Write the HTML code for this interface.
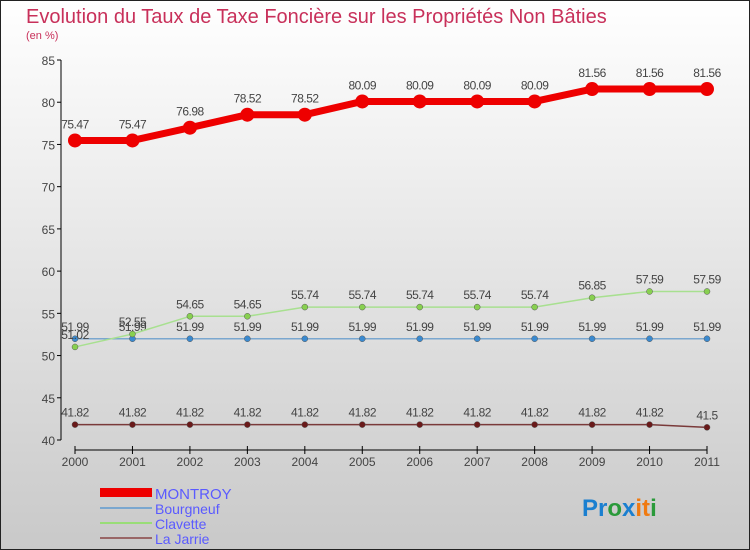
<!DOCTYPE html>
<html><head><meta charset="utf-8"><style>
body{margin:0}
#wrap{width:750px;height:550px;position:relative;overflow:hidden;font-family:"Liberation Sans",sans-serif}
svg text{font-family:"Liberation Sans",sans-serif}
</style></head><body>
<div id="wrap">
<svg id="svg" width="750" height="550" xmlns="http://www.w3.org/2000/svg">
<defs><linearGradient id="bg" x1="0" y1="0" x2="0" y2="1"><stop offset="0" stop-color="#ffffff"/><stop offset="1" stop-color="#c9c9c9"/></linearGradient></defs>
<rect x="0.5" y="0.5" width="749" height="549" fill="url(#bg)" stroke="#222"/>
<text x="26" y="23" font-size="20" fill="#c8305a">Evolution du Taux de Taxe Foncière sur les Propriétés Non Bâties</text>
<text x="26" y="39" font-size="11" fill="#c8305a">(en %)</text>
<g id="axes"></g><g id="series"></g>
<g>
<rect x="100" y="488" width="52" height="9" fill="#e00"/>
<text x="155" y="499" font-size="15" fill="#5a5aff">MONTROY</text>
<line x1="100" y1="508" x2="152" y2="508" stroke="#7aa7cf" stroke-width="2"/>
<text x="155" y="514" font-size="14" fill="#5a5aff">Bourgneuf</text>
<line x1="100" y1="523" x2="152" y2="523" stroke="#99dd77" stroke-width="2"/>
<text x="155" y="529" font-size="14" fill="#5a5aff">Clavette</text>
<line x1="100" y1="538" x2="152" y2="538" stroke="#996666" stroke-width="2"/>
<text x="155" y="544" font-size="14" fill="#5a5aff">La Jarrie</text>
</g>
<text x="582" y="516" font-size="24" font-weight="bold"><tspan fill="#1a7fd0">Pr</tspan><tspan fill="#2a9a3a">o</tspan><tspan fill="#1a7fd0">x</tspan><tspan fill="#f07a10">it</tspan><tspan fill="#2a9a3a">i</tspan></text>
</svg>
</div>
<script>
const years=["2000","2001","2002","2003","2004","2005","2006","2007","2008","2009","2010","2011"];
const yTicks=[40,45,50,55,60,65,70,75,80,85];
const montroy=[75.47,75.47,76.98,78.52,78.52,80.09,80.09,80.09,80.09,81.56,81.56,81.56];
const bourgneuf=[51.99,51.99,51.99,51.99,51.99,51.99,51.99,51.99,51.99,51.99,51.99,51.99];
const clavette=[51.02,52.55,54.65,54.65,55.74,55.74,55.74,55.74,55.74,56.85,57.59,57.59];
const laJarrie=[41.82,41.82,41.82,41.82,41.82,41.82,41.82,41.82,41.82,41.82,41.82,41.5];
const NS="http://www.w3.org/2000/svg";
function X(i){return 75+i*(707-75)/(years.length-1);}
function Y(v){return 440-(v-40)*(380/45);}
function mk(tag,attrs,parent){const e=document.createElementNS(NS,tag);for(const k in attrs)e.setAttribute(k,attrs[k]);parent.appendChild(e);return e;}
const ax=document.getElementById('axes');
let yl=mk('line',{x1:61,y1:60,x2:61,y2:440,stroke:'#000'},ax);


yTicks.forEach(t=>{
 mk('line',{x1:57,y1:Y(t),x2:61,y2:Y(t),stroke:'#000'},ax);
 const tx=mk('text',{x:55,y:Y(t)+5,'font-size':12,fill:'#444','text-anchor':'end'},ax);
 tx.textContent=t;
 
 
});
let xl=mk('line',{x1:75,y1:450,x2:707,y2:450,stroke:'#000'},ax);


years.forEach((y,i)=>{
 mk('line',{x1:X(i),y1:446,x2:X(i),y2:454,stroke:'#000'},ax);
 const tx=mk('text',{x:X(i),y:466,'font-size':12,fill:'#444','text-anchor':'middle'},ax);
 tx.textContent=y;
 
 
});
const sg=document.getElementById('series');
function draw(name,data,color,w,r,dotFill){
 const g=mk('g',{},sg);
 
 
 const pl=mk('polyline',{points:data.map((v,i)=>X(i)+','+Y(v)).join(' '),fill:'none',stroke:color,'stroke-width':w,'stroke-linejoin':'round'},g);
 
 
 data.forEach((v,i)=>{
  const c=mk('circle',{cx:X(i),cy:Y(v),r:r,fill:dotFill,stroke:r>4?'none':'#555','stroke-width':0.5},g);
  
  
  const t=mk('text',{x:X(i),y:Y(v)-(r>4?12:8),'font-size':12,fill:'#444','text-anchor':'middle','letter-spacing':'-0.5'},g);
  t.textContent=v;
  
  
 });
}
draw('la-jarrie',laJarrie,'#7a3a3a',1.5,3,'#6a1a1a');
draw('bourgneuf',bourgneuf,'#7aa7cf',1.5,3,'#3a8ad0');
draw('clavette',clavette,'#a8e090',1.5,3,'#88d050');
draw('montroy',montroy,'#ee0000',7,7,'#ee0000');
</script>
</body></html>
